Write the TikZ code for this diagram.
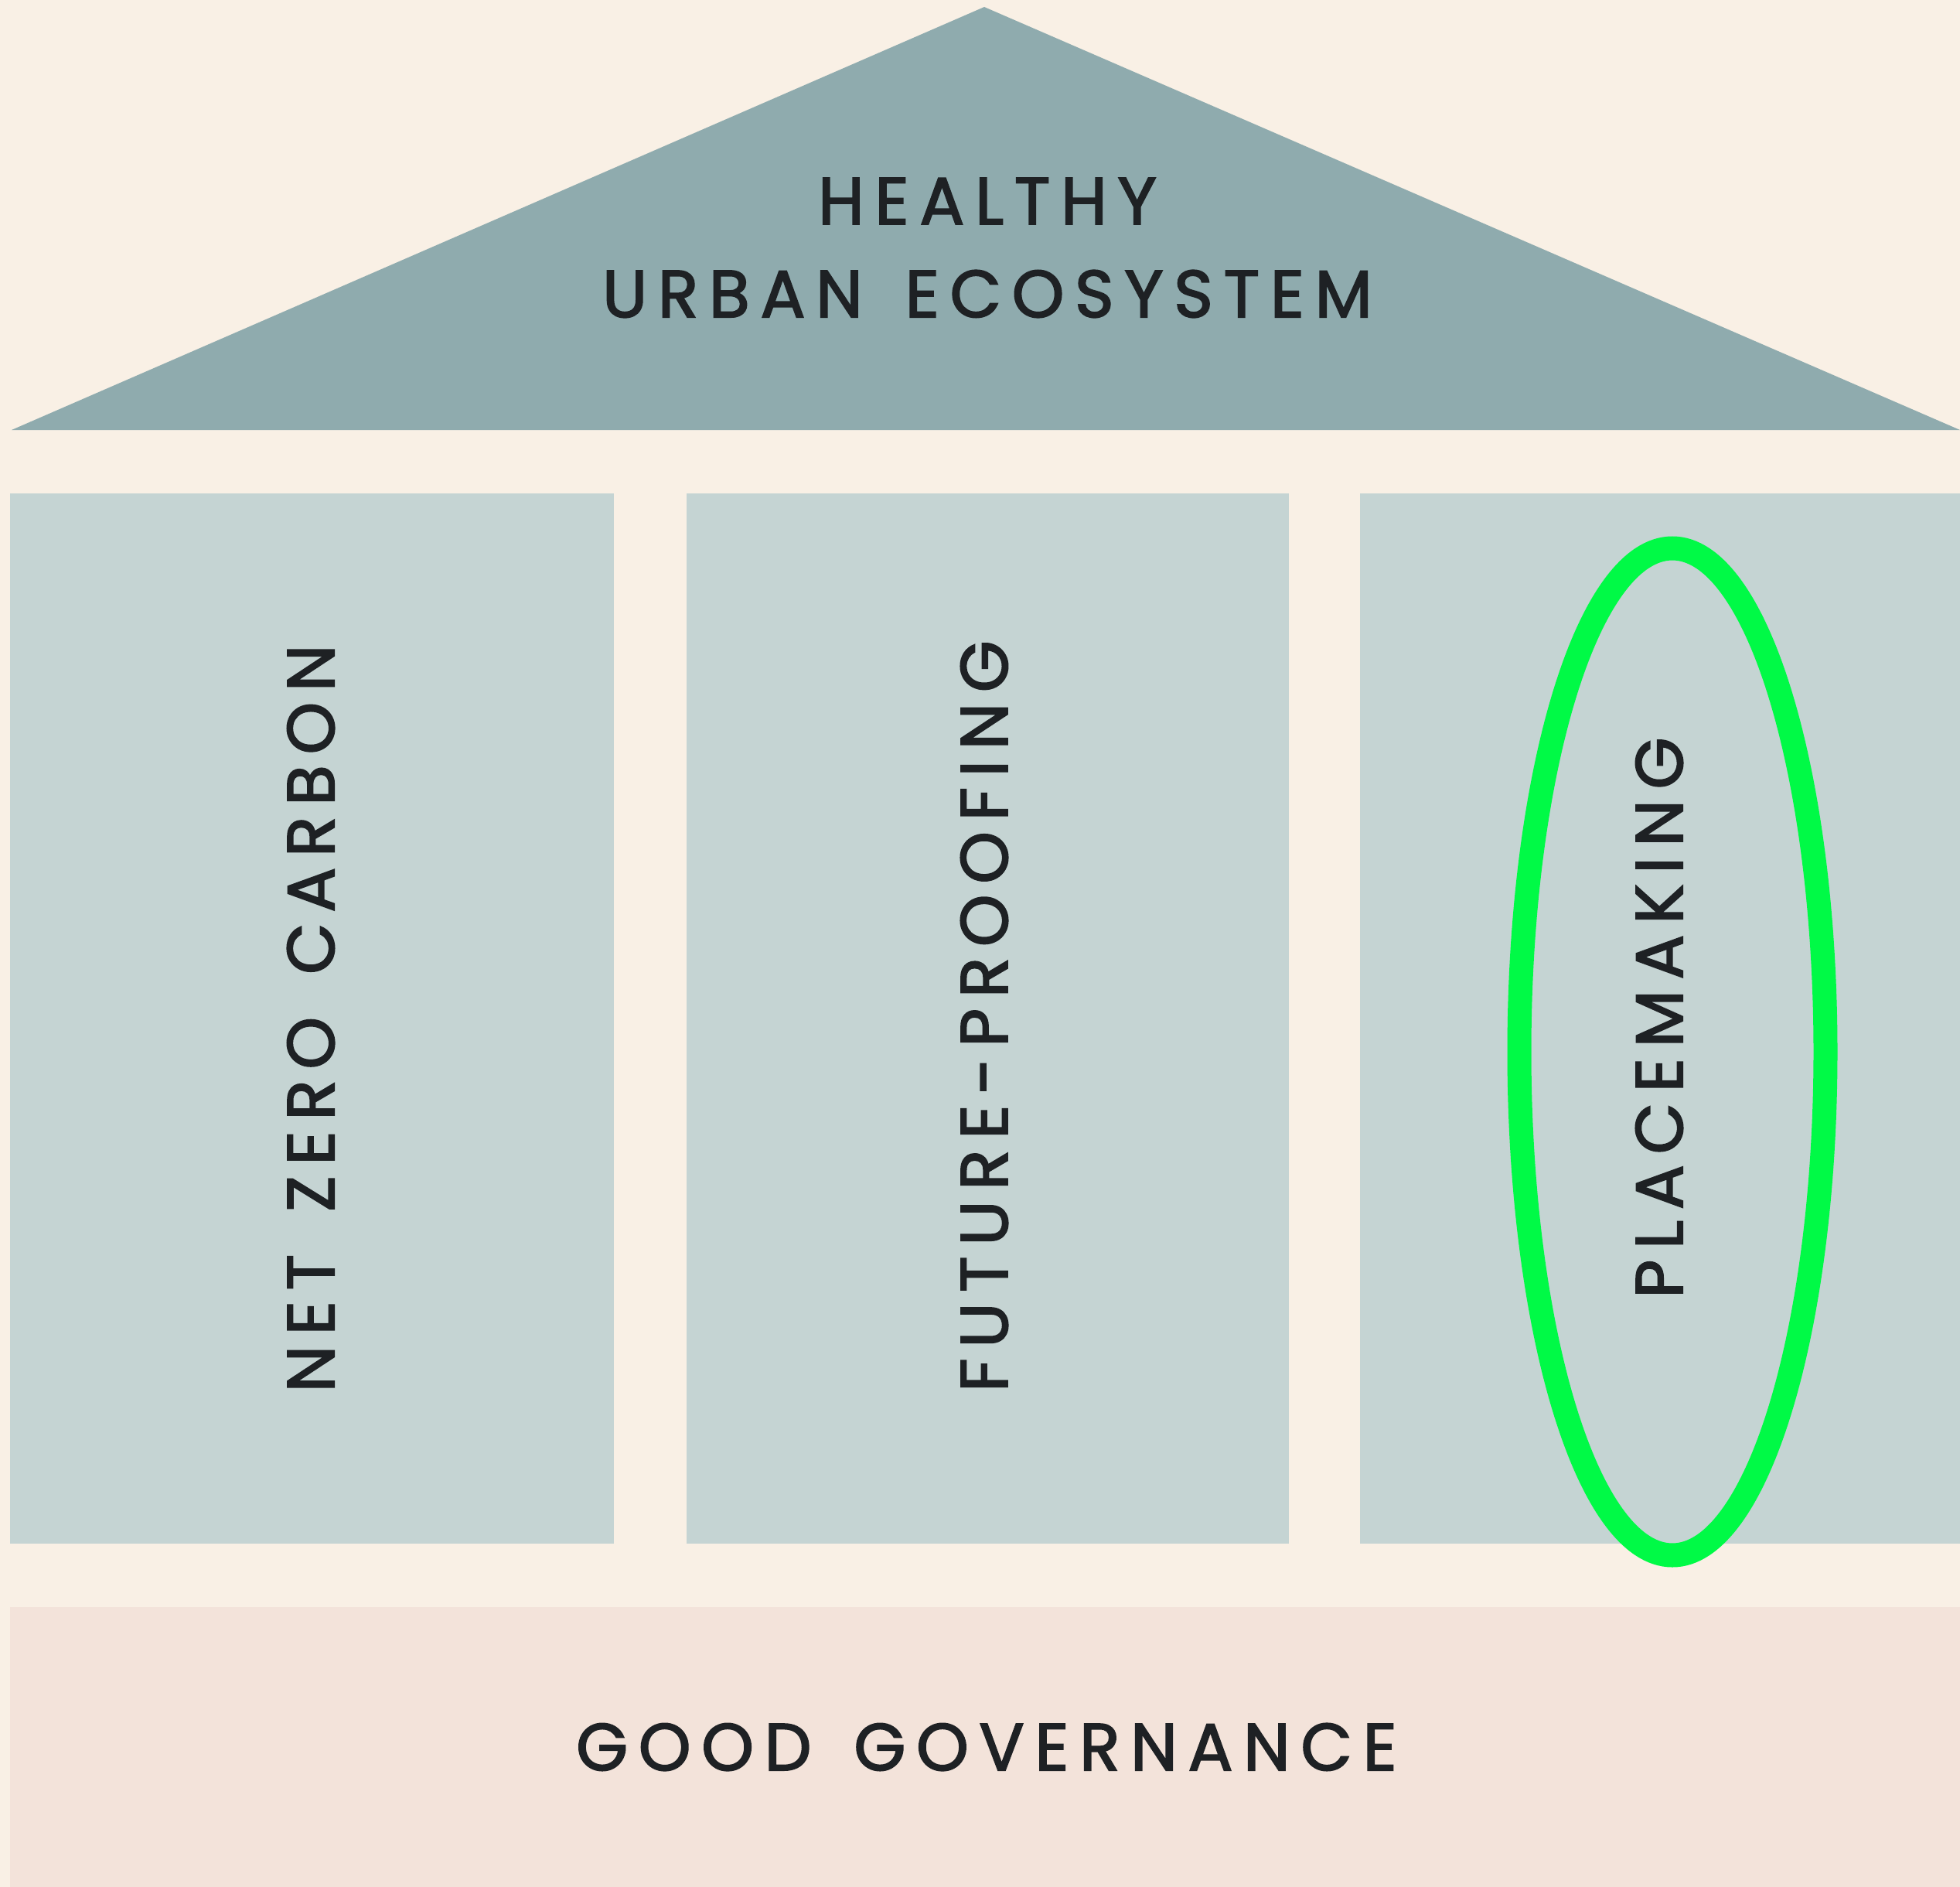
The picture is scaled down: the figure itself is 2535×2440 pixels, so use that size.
\documentclass[tikz,border=0pt]{standalone}
\usepackage{fontspec}
\setmainfont{Poppins}
\newfontfamily\lblfont[LetterSpace=16, WordSpace=1.5, FakeBold=2.2]{Poppins}
\definecolor{bgcream}{HTML}{F9F0E5}
\definecolor{roofcol}{HTML}{8FABAE}
\definecolor{pillarcol}{HTML}{C5D4D3}
\definecolor{basecol}{HTML}{F3E3DA}
\definecolor{ringcol}{HTML}{00FA46}
\definecolor{inkcol}{HTML}{1E2124}
\tikzset{
  lbl/.style={inner sep=0pt, text=inkcol, font=\lblfont\fontsize{86}{100}\selectfont},
  pillarbox/.style={fill=pillarcol, draw=none},
}
\begin{document}
\begin{tikzpicture}[x=1pt,y=-1pt]
\useasboundingbox (0,0) rectangle (2535,2440);
\fill[bgcream] (0,0) rectangle (2535,2440);
% roof
\fill[roofcol] (15,556) -- (1273,9) -- (2535,556) -- cycle;
% pillars
\fill[pillarbox] (13,638) rectangle (794,1996);
\fill[pillarbox] (888,638) rectangle (1667,1996);
\fill[pillarbox] (1759,638) rectangle (2535,1996);
% base
\fill[basecol] (13,2078) rectangle (2535,2440);
% labels
\node[lbl] (healthy) at (1277,260) {HEALTHY};
\node[lbl] (urban) at (1277,380) {URBAN ECOSYSTEM};
\node[lbl, rotate=90] (netzero) at (402,1317) {NET ZERO CARBON};
\node[lbl, rotate=90] (future) at (1273,1314) {FUTURE-PROOFING};
\node[lbl, rotate=90] (place) at (2146,1316) {PLACEMAKING};
\node[lbl] (gov) at (1276,2259) {GOOD GOVERNANCE};
% highlight ring
\draw[ringcol, line width=31pt] (2163,1360) ellipse [x radius=198, y radius=651];
\end{tikzpicture}
\end{document}
